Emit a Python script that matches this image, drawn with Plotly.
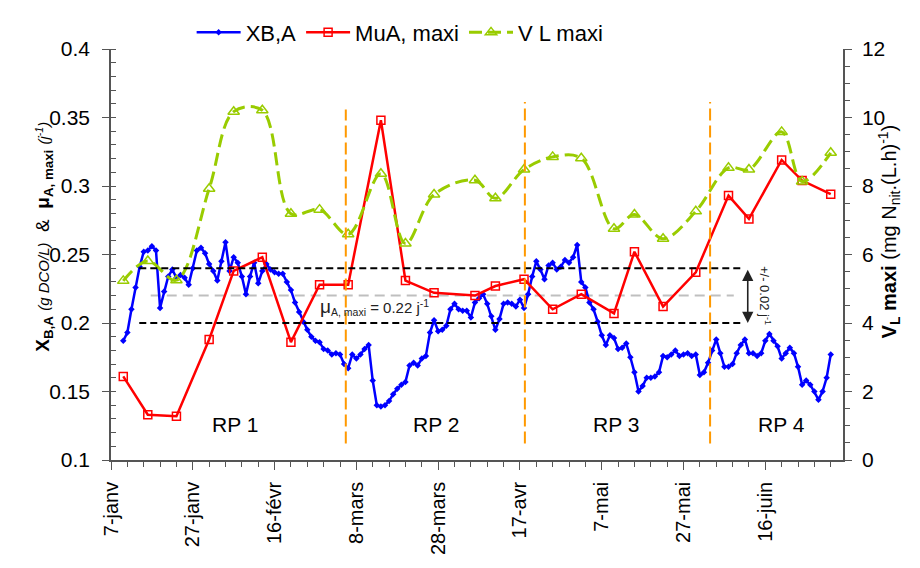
import pandas as pd
import plotly.graph_objects as go

# ---------------- data ----------------
XBA_START = "2009-01-10"
xba_values = [
    0.187, 0.193, 0.210, 0.226, 0.241, 0.252, 0.253, 0.256, 0.253, 0.211,
    0.223, 0.234, 0.239, 0.233, 0.235, 0.233, 0.228, 0.240, 0.253, 0.255,
    0.251, 0.243, 0.238, 0.231, 0.245, 0.259, 0.238, 0.248, 0.244, 0.234,
    0.221, 0.234, 0.244, 0.229, 0.238, 0.243, 0.239, 0.237, 0.236, 0.236,
    0.230, 0.224, 0.215, 0.208, 0.201, 0.195, 0.190, 0.187, 0.186, 0.181,
    0.180, 0.177, 0.178, 0.177, 0.170, 0.167, 0.177, 0.174, 0.177, 0.181,
    0.184, 0.158, 0.140, 0.139, 0.140, 0.143, 0.148, 0.152, 0.155, 0.157,
    0.169, 0.171, 0.169, 0.174, 0.176, 0.193, 0.202, 0.194, 0.195, 0.198,
    0.210, 0.214, 0.210, 0.209, 0.209, 0.204, 0.215, 0.218, 0.221, 0.214,
    0.205, 0.195, 0.203, 0.214, 0.215, 0.214, 0.212, 0.217, 0.211, 0.221,
    0.234, 0.245, 0.239, 0.232, 0.242, 0.244, 0.239, 0.241, 0.246, 0.244,
    0.248, 0.257, 0.230, 0.226, 0.215, 0.210, 0.201, 0.191, 0.184, 0.191,
    0.189, 0.181, 0.182, 0.185, 0.175, 0.164, 0.150, 0.154, 0.160, 0.160,
    0.161, 0.164, 0.176, 0.175, 0.177, 0.180, 0.176, 0.177, 0.178, 0.176,
    0.177, 0.162, 0.164, 0.171, 0.180, 0.188, 0.178, 0.168, 0.168, 0.170,
    0.178, 0.184, 0.188, 0.178, 0.178, 0.176, 0.178, 0.187, 0.192, 0.187,
    0.183, 0.174, 0.178, 0.182, 0.178, 0.168, 0.155, 0.158, 0.155, 0.150,
    0.144, 0.150, 0.160, 0.177,
]

sample_dates = [
    "2009-01-10", "2009-01-16", "2009-01-23", "2009-01-31", "2009-02-06",
    "2009-02-13", "2009-02-20", "2009-02-27", "2009-03-06", "2009-03-14",
    "2009-03-20", "2009-03-27", "2009-04-06", "2009-04-11", "2009-04-18",
    "2009-04-25", "2009-05-02", "2009-05-10", "2009-05-15", "2009-05-22",
    "2009-05-30", "2009-06-07", "2009-06-12", "2009-06-20", "2009-06-25",
    "2009-07-02",
]
mua_maxi = [
    0.161, 0.133, 0.132, 0.188, 0.238, 0.248, 0.186, 0.228, 0.228, 0.348,
    0.231, 0.222, 0.220, 0.227, 0.232, 0.210, 0.221, 0.207, 0.252, 0.212,
    0.237, 0.293, 0.276, 0.319, 0.304, 0.294,
]
vl_maxi = [
    5.23, 5.81, 5.25, 7.92, 10.17, 10.21, 7.19, 7.31, 6.59, 8.36,
    6.32, 7.75, 8.17, 7.64, 8.48, 8.85, 8.81, 6.75, 7.17, 6.46,
    7.26, 8.53, 8.48, 9.58, 8.13, 8.97,
]

tick_dates = ["2009-01-07", "2009-01-27", "2009-02-16", "2009-03-08", "2009-03-28",
              "2009-04-17", "2009-05-07", "2009-05-27", "2009-06-16"]
tick_labels = ["7-janv", "27-janv", "16-févr", "8-mars", "28-mars",
               "17-avr", "7-mai", "27-mai", "16-juin"]

# period boundaries and labels
period_bounds = ["2009-03-05 10:00", "2009-04-18 05:00", "2009-06-02 12:00"]
period_tops = [0.3558, 0.3614, 0.3614]
period_names = ["RP 1", "RP 2", "RP 3", "RP 4"]
period_name_x = ["2009-02-06 10:00", "2009-03-27 14:00", "2009-05-10 10:00", "2009-06-20 00:00"]

# mean maximal growth rate and its tolerance band
MU_MEAN = 0.22
MU_TOL = 0.02
band_x = ("2009-01-13 22:00", "2009-06-10 00:00")
mean_x = ("2009-01-16 17:00", "2009-06-08 07:00")

X_RANGE = ["2009-01-07", "2009-07-05"]

FONT = "Liberation Sans, Arial, sans-serif"
BLUE = "#0000FF"
RED = "#FF0000"
GREEN = "#99CC00"
ORANGE = "#FF9900"
AXIS = "#555555"

xba_dates = pd.date_range(start=XBA_START, periods=len(xba_values), freq="D")

fig = go.Figure()

fig.add_trace(go.Scatter(
    x=xba_dates, y=xba_values, name="XB,A", mode="lines+markers",
    line=dict(color=BLUE, width=2.5),
    marker=dict(symbol="diamond", size=5, color=BLUE),
))
fig.add_trace(go.Scatter(
    x=sample_dates, y=mua_maxi, name="MuA, maxi", mode="lines+markers",
    line=dict(color=RED, width=2.5),
    marker=dict(symbol="square-open", size=8, color=RED, line=dict(width=1.5)),
))
fig.add_trace(go.Scatter(
    x=sample_dates, y=vl_maxi, name="V L maxi", mode="lines+markers", yaxis="y2",
    line=dict(color=GREEN, width=3, dash="13px,6px", shape="spline", smoothing=1.0),
    marker=dict(symbol="triangle-up-open", size=10, color=GREEN, line=dict(width=1.5)),
))

shapes = []
# tolerance band limits
for yv in (MU_MEAN + MU_TOL, MU_MEAN - MU_TOL):
    shapes.append(dict(type="line", xref="x", yref="y", x0=band_x[0], x1=band_x[1],
                       y0=yv, y1=yv, line=dict(color="black", width=2, dash="7px,4px"),
                       layer="above"))
# mean line
shapes.append(dict(type="line", xref="x", yref="y", x0=mean_x[0], x1=mean_x[1],
                   y0=MU_MEAN, y1=MU_MEAN,
                   line=dict(color="#BFBFBF", width=2, dash="10px,6px"), layer="below"))
# period boundaries
for xb, top in zip(period_bounds, period_tops):
    shapes.append(dict(type="line", xref="x", yref="y", x0=xb, x1=xb, y0=0.112, y1=top,
                       line=dict(color=ORANGE, width=2, dash="12px,5px"), layer="above"))

annotations = []
for name, xn in zip(period_names, period_name_x):
    annotations.append(dict(x=xn, y=0.126, xref="x", yref="y", text=name, showarrow=False,
                            font=dict(family=FONT, size=21, color="black")))

annotations.append(dict(
    x="2009-02-26 17:00", y=0.2115, xref="x", yref="y", xanchor="left", yanchor="middle",
    text="<span style='font-size:19px'>μ</span><sub>A, maxi</sub> = 0.22 j<sup>-1</sup>",
    showarrow=False, font=dict(family=FONT, size=15, color="#222222")))

# double-headed arrow for the tolerance band
annotations.append(dict(
    x="2009-06-11 17:00", y=MU_MEAN - MU_TOL, ax="2009-06-11 17:00", ay=MU_MEAN + MU_TOL,
    xref="x", yref="y", axref="x", ayref="y", text="", showarrow=True,
    arrowhead=2, startarrowhead=2, arrowside="end+start", arrowsize=1.4,
    arrowwidth=1.6, arrowcolor="#222222", standoff=0, startstandoff=0))
annotations.append(dict(
    x="2009-06-16 02:00", y=MU_MEAN, xref="x", yref="y", textangle=90,
    text="+/- 0.02 j<sup>-1</sup>", showarrow=False,
    font=dict(family=FONT, size=13, color="#222222")))

# axis titles
annotations.append(dict(
    x=30, y=228, xref="paper", yref="paper", text=(
        "<b>X<sub>B,A</sub></b> <i><span style='font-size:15px'>(g DCO/L)</span></i>"
        "  &  <b>μ<sub>A, maxi</sub></b> <i><span style='font-size:15px'>(j<sup>-1</sup>)</span></i>"),
    textangle=-90, showarrow=False, font=dict(family=FONT, size=19, color="black")))
annotations.append(dict(
    x=906, y=223, xref="paper", yref="paper",
    text="<b>V<sub>L</sub> maxi</b> (mg N<sub>nit</sub>.(L.h)<sup>-1</sup>)",
    textangle=-90, showarrow=False, font=dict(family=FONT, size=20, color="black")))

# convert pixel placement of the titles into paper coordinates
W, H = 920, 568
L, R, T, B = 111, 77, 33, 108
for a in annotations[-2:]:
    a["x"] = (a["x"] - L) / (W - L - R)
    a["y"] = 1 - (a["y"] - T) / (H - T - B)

fig.update_layout(
    width=W, height=H,
    margin=dict(l=L, r=R, t=T, b=B, pad=0),
    paper_bgcolor="white", plot_bgcolor="white",
    font=dict(family=FONT, size=20, color="black"),
    showlegend=True,
    legend=dict(orientation="h", x=0.395, xanchor="center", y=1.04, yanchor="middle",
                font=dict(family=FONT, size=22), bgcolor="rgba(0,0,0,0)",
                itemwidth=44, tracegroupgap=0),
    shapes=shapes, annotations=annotations,
    xaxis=dict(
        type="date", range=X_RANGE, tickmode="array", tickvals=tick_dates, ticktext=tick_labels,
        tickangle=-90, ticks="outside", ticklen=8, tickwidth=1.3, tickcolor=AXIS,
        showline=True, linecolor=AXIS, linewidth=1.5, showgrid=False, zeroline=False,
        tickfont=dict(family=FONT, size=20), ticklabelstandoff=4,
        minor=dict(ticks="outside", ticklen=5, tickcolor=AXIS, tick0="2009-01-07",
                   dtick=4 * 86400000, showgrid=False),
    ),
    yaxis=dict(
        range=[0.1, 0.4], tickmode="linear", tick0=0.1, dtick=0.05, tickformat="~g",
        ticks="outside", ticklen=7, tickwidth=1.3, tickcolor=AXIS,
        showline=True, linecolor=AXIS, linewidth=1.5, showgrid=False, zeroline=False,
        tickfont=dict(family=FONT, size=21), ticklabelstandoff=8,
        minor=dict(ticks="inside", ticklen=5, tickcolor=AXIS, dtick=0.01, showgrid=False),
    ),
    yaxis2=dict(
        range=[0, 12], overlaying="y", side="right", tickmode="linear", tick0=0, dtick=2,
        ticks="outside", ticklen=7, tickwidth=1.3, tickcolor=AXIS,
        showline=True, linecolor=AXIS, linewidth=1.5, showgrid=False, zeroline=False,
        tickfont=dict(family=FONT, size=21), ticklabelstandoff=6,
        minor=dict(ticks="outside", ticklen=5, tickcolor=AXIS, dtick=0.5, showgrid=False),
    ),
)

fig.write_html("out.html")
